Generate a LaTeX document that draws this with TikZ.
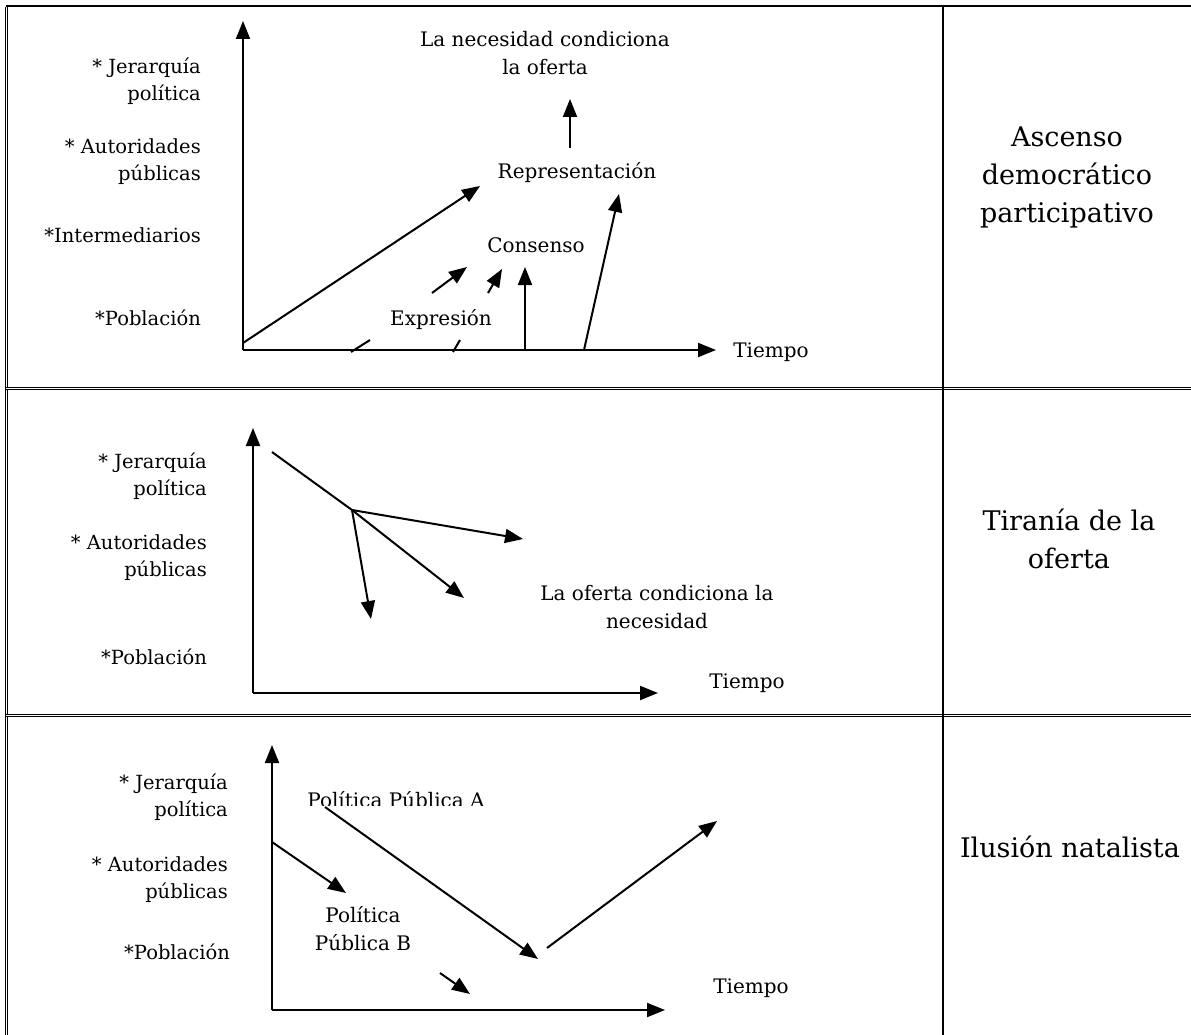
\documentclass[tikz,border=0pt]{standalone}
\usepackage{fontspec}
\setmainfont{DejaVu Serif}
\usetikzlibrary{arrows.meta}
\begin{document}
\begin{tikzpicture}[x=1pt,y=-1pt,
 lab/.style={font=\fontsize{19.5}{27}\selectfont, align=right, anchor=east, inner sep=0pt},
 txt/.style={font=\fontsize{20}{28}\selectfont, align=center, inner sep=0pt},
 big/.style={font=\fontsize{27}{38}\selectfont, align=center, inner sep=0pt},
 arr/.style={line width=2pt, -{Triangle[length=18pt,width=14pt]}},
 ln/.style={line width=2pt},
 rule/.style={line width=1.1pt, double, double distance=0.8pt},
]
\useasboundingbox (0,0) rectangle (1191,1035);
\clip (0,0) rectangle (1191,1035);

% table
\draw[rule] (6,7) -- (1200,7);
\draw[rule] (6,7) -- (6,1045);
\draw[rule] (6,388) -- (1200,388);
\draw[rule] (6,715) -- (1200,715);
\draw[line width=1.8pt] (943,7) -- (943,1045);

% ---------- row 1 ----------
\coordinate (o1) at (243,350);
\coordinate (y1) at (243,21);
\coordinate (x1) at (716,350);
\draw[arr] (o1) -- (y1);
\draw[arr] (o1) -- (x1);
\node[txt] (t1) at (771,352) {Tiempo};
\node[lab] (j1) at (201,81) {* Jerarquía\\política};
\node[lab] (a1) at (201,162) {* Autoridades\\públicas};
\node[lab] (i1) at (201,235) {*Intermediarios};
\node[lab] (p1) at (201,318) {*Población};
\node[txt] (nec) at (545,53) {La necesidad condiciona\\la oferta};
\node[txt] (rep) at (577,173) {Representación};
\node[txt] (con) at (536,245) {Consenso};
\node[txt] (exp) at (441,320) {Expresión};
\coordinate (l1s) at (243,343); \coordinate (l1e) at (480,186);
\draw[arr] (l1s) -- (l1e);
\coordinate (u1s) at (570,148); \coordinate (u1e) at (570,99);
\draw[arr] (u1s) -- (u1e);
\coordinate (s1s) at (432,293); \coordinate (s1e) at (467,267);
\draw[arr] (s1s) -- (s1e);
\coordinate (s2s) at (488,293); \coordinate (s2e) at (502,269);
\draw[arr] (s2s) -- (s2e);
\coordinate (k1s) at (351,352); \coordinate (k1e) at (370,340);
\draw[ln] (k1s) -- (k1e);
\coordinate (k2s) at (453,352); \coordinate (k2e) at (460,340);
\draw[ln] (k2s) -- (k2e);
\coordinate (v1s) at (525,350); \coordinate (v1e) at (525,267);
\draw[arr] (v1s) -- (v1e);
\coordinate (r1s) at (584,350); \coordinate (r1e) at (619,194);
\draw[arr] (r1s) -- (r1e);
\node[big] (asc) at (1067,177) {Ascenso\\democrático\\participativo};

% ---------- row 2 ----------
\coordinate (o2) at (253,693);
\coordinate (y2) at (253,428);
\coordinate (x2) at (658,693);
\draw[arr] (o2) -- (y2);
\draw[arr] (o2) -- (x2);
\node[txt] (t2) at (747,683) {Tiempo};
\node[lab] (j2) at (207,476) {* Jerarquía\\política};
\node[lab] (a2) at (207,558) {* Autoridades\\públicas};
\node[lab] (p2) at (207,657) {*Población};
\coordinate (b0) at (272,452);
\coordinate (b) at (352,510);
\draw[ln] (b0) -- (b);
\coordinate (e1) at (523,539);
\coordinate (e2) at (464,598);
\coordinate (e3) at (371,619);
\draw[arr] (b) -- (e1);
\draw[arr] (b) -- (e2);
\draw[arr] (b) -- (e3);
\node[txt] (of) at (657,607) {La oferta condiciona la\\necesidad};
\node[big] (tir) at (1069,539) {Tiranía de la\\oferta};

% ---------- row 3 ----------
\coordinate (o3) at (272,1010);
\coordinate (y3) at (272,745);
\coordinate (x3) at (665,1010);
\draw[arr] (o3) -- (y3);
\draw[arr] (o3) -- (x3);
\node[txt] (t3) at (751,988) {Tiempo};
\node[lab] (j3) at (228,797) {* Jerarquía\\política};
\node[lab] (a3) at (228,880) {* Autoridades\\públicas};
\node[lab] (p3) at (230,952) {*Población};
\begin{scope}
\clip (290,770) rectangle (520,805);
\node[txt, anchor=base] (ppa) at (396,807) {Política Pública A};
\end{scope}
\coordinate (as) at (325,807); \coordinate (ae) at (538,959);
\draw[arr] (as) -- (ae);
\coordinate (cs) at (547,948); \coordinate (ce) at (717,821);
\draw[arr] (cs) -- (ce);
\coordinate (bs) at (272,842); \coordinate (be) at (346,893);
\draw[arr] (bs) -- (be);
\node[txt] (ppb) at (363,929) {Política\\Pública B};
\coordinate (ds) at (440,973); \coordinate (de) at (470,994);
\draw[arr] (ds) -- (de);
\node[big] (ilu) at (1070,847) {Ilusión natalista};
\end{tikzpicture}
\end{document}
